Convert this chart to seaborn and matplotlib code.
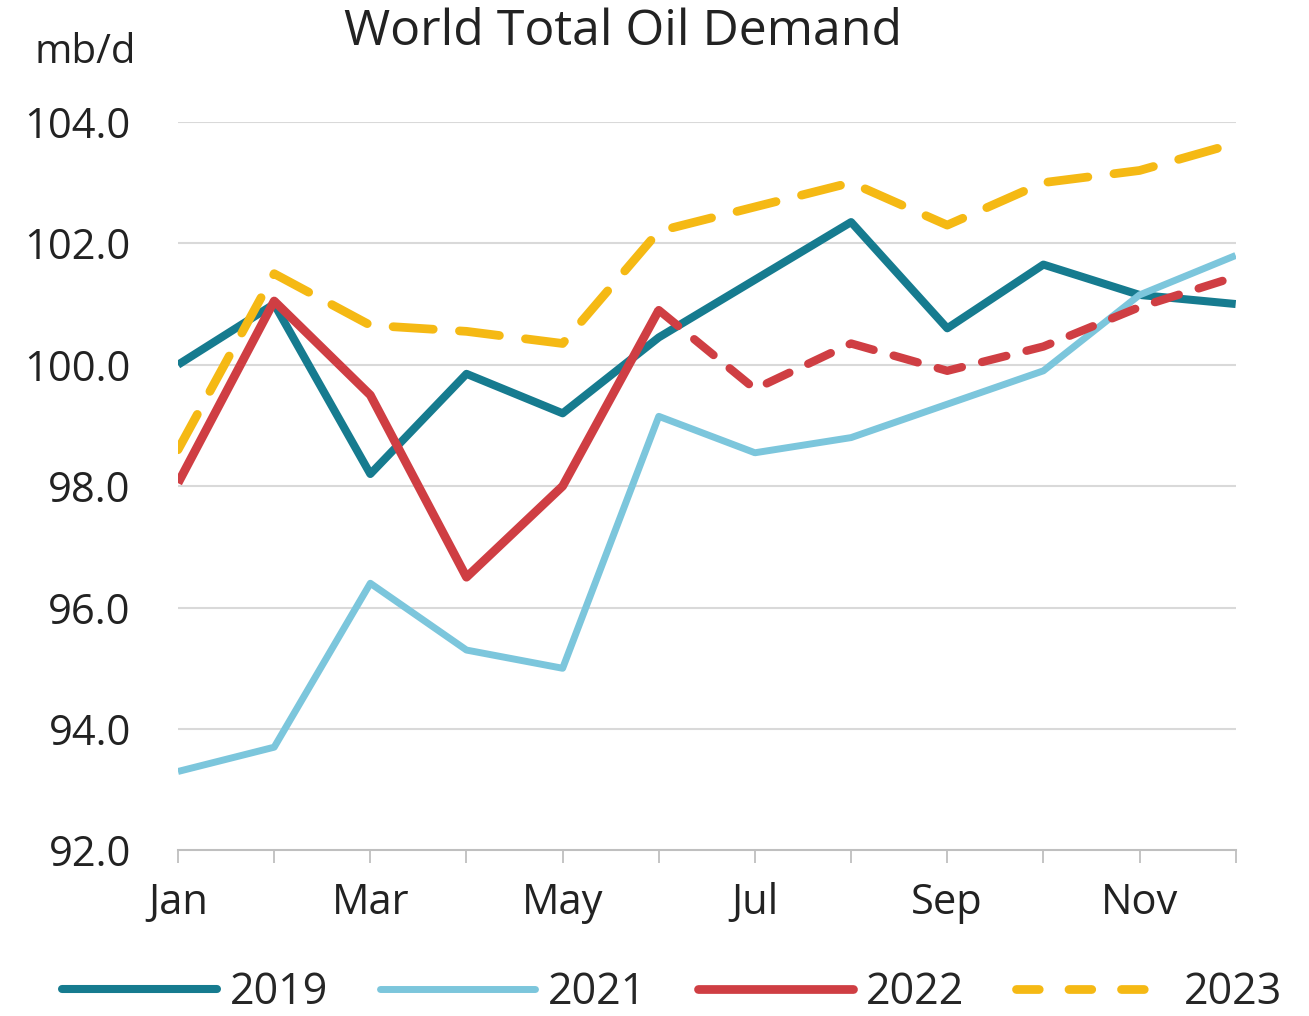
import pandas as pd
import numpy as np
import matplotlib
matplotlib.use("Agg")
import matplotlib.pyplot as plt
from matplotlib.lines import Line2D
import seaborn as sns

months = ["Jan", "Feb", "Mar", "Apr", "May", "Jun", "Jul", "Aug", "Sep", "Oct", "Nov", "Dec"]
tick_labels = ["Jan", "", "Mar", "", "May", "", "Jul", "", "Sep", "", "Nov", ""]

d2019 = [100.0, 101.0, 98.2, 99.85, 99.2, 100.45, 101.4, 102.35, 100.6, 101.65, 101.15, 101.0]
d2021 = [93.3, 93.7, 96.4, 95.3, 95.0, 99.15, 98.55, 98.8, 99.35, 99.9, 101.15, 101.8]
d2022 = [98.05, 101.05, 99.5, 96.5, 98.0, 100.9, 99.6, 100.35, 99.9, 100.3, 100.95, 101.45]
d2023 = [98.6, 101.5, 100.65, 100.55, 100.35, 102.2, 102.6, 103.0, 102.3, 103.0, 103.2, 103.65]

c2019 = "#167b8f"
c2021 = "#7cc6dc"
c2022 = "#cf3e43"
c2023 = "#f5b914"

sns.set_theme(style="white")
plt.rcParams["font.family"] = ["Open Sans", "DejaVu Sans"]

x = np.arange(12)
fig = plt.figure(figsize=(13.09, 10.16), dpi=100)
ax = fig.add_axes([0.136, 0.163, 0.808, 0.717])

for v in [94, 96, 98, 100, 102, 104]:
    ax.axhline(v, color="#d9d9d9", lw=1.5, zorder=0)

sns.lineplot(x=x, y=d2019, ax=ax, color=c2019, lw=5.8)
sns.lineplot(x=x, y=d2021, ax=ax, color=c2021, lw=5)
sns.lineplot(x=x[:6], y=d2022[:6], ax=ax, color=c2022, lw=6.3)
sns.lineplot(x=x[5:], y=d2022[5:], ax=ax, color=c2022, lw=6)
ax.lines[-1].set_dashes([3.0, 2.5])
sns.lineplot(x=x, y=d2023, ax=ax, color=c2023, lw=6.3)
ax.lines[-1].set_dashes([4.6, 3.0])
for ln in ax.lines:
    ln.set_solid_capstyle("butt")
    ln.set_dash_capstyle("round")

ax.set_xlim(0, 11)
ax.set_ylim(92, 104)
ax.set_yticks([92, 94, 96, 98, 100, 102, 104])
ax.set_yticklabels([f"{v:.1f}" for v in [92, 94, 96, 98, 100, 102, 104]])
ax.set_xticks(x)
ax.set_xticklabels(tick_labels)
ax.tick_params(axis="y", length=0, pad=34, labelsize=30, labelcolor="#222222")
ax.tick_params(axis="x", length=9, width=1.3, color="#bfbfbf", direction="out",
               pad=14, labelsize=30, labelcolor="#222222", bottom=True)
for s in ["top", "right", "left"]:
    ax.spines[s].set_visible(False)
ax.spines["bottom"].set_color("#bfbfbf")
ax.spines["bottom"].set_linewidth(1.5)

# legend proxies
handles = [
    Line2D([], [], color=c2019, lw=5.8, solid_capstyle="round"),
    Line2D([], [], color=c2021, lw=5, solid_capstyle="round"),
    Line2D([], [], color=c2022, lw=6.3, solid_capstyle="round"),
    Line2D([], [], color=c2023, lw=6.3, dashes=[2.6, 3.4], dash_capstyle="round"),
]
labels = ["2019", "2021", "2022", "2023"]
ax.legend(handles, labels, loc="center", bbox_to_anchor=(0.467, -0.196), ncol=4,
          frameon=False, fontsize=31, handlelength=3.6, handletextpad=0.3,
          columnspacing=1.2, borderaxespad=0)

fig.text(0.476, 0.968, "World Total Oil Demand", ha="center", va="center", fontsize=36, color="#222222")
fig.text(0.065, 0.948, "mb/d", ha="center", va="center", fontsize=29, color="#222222")

fig.savefig("out.png", dpi=100)
